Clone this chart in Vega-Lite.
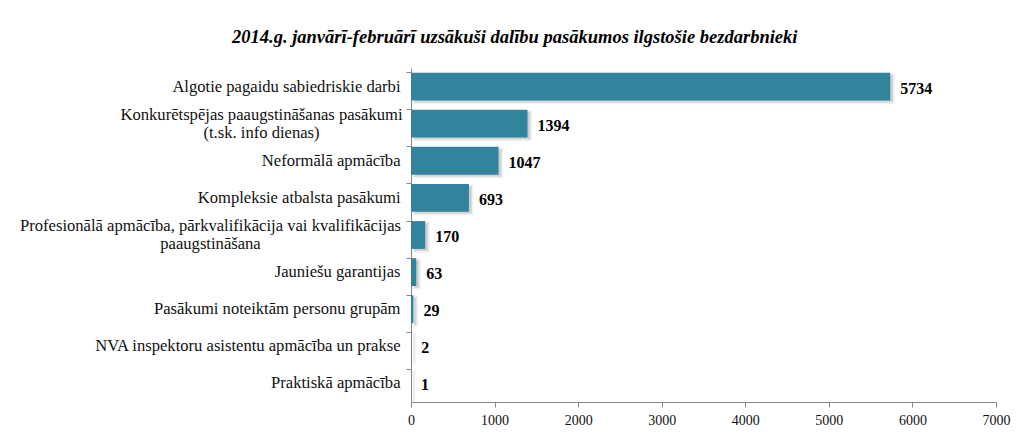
{
  "$schema": "https://vega.github.io/schema/vega-lite/v6.json",
  "width": 585,
  "height": 334,
  "autosize": {"type": "none"},
  "padding": {"left": 411, "top": 68, "right": 23, "bottom": 33},
  "background": "white",
  "title": {
    "text": "2014.g. janvārī-februārī uzsākuši dalību pasākumos ilgstošie bezdarbnieki",
    "font": "Liberation Serif",
    "fontSize": 18.5,
    "fontWeight": "bold",
    "fontStyle": "italic",
    "color": "#000000",
    "anchor": "middle",
    "frame": "bounds",
    "offset": 22
  },
  "data": {
    "values": [
      {"pasakums": "Algotie pagaidu sabiedriskie darbi", "skaits": 5734},
      {"pasakums": "Konkurētspējas paaugstināšanas pasākumi (t.sk. info dienas)", "skaits": 1394},
      {"pasakums": "Neformālā apmācība", "skaits": 1047},
      {"pasakums": "Kompleksie atbalsta pasākumi", "skaits": 693},
      {"pasakums": "Profesionālā apmācība, pārkvalifikācija vai kvalifikācijas paaugstināšana", "skaits": 170},
      {"pasakums": "Jauniešu garantijas", "skaits": 63},
      {"pasakums": "Pasākumi noteiktām personu grupām", "skaits": 29},
      {"pasakums": "NVA inspektoru asistentu apmācība un prakse", "skaits": 2},
      {"pasakums": "Praktiskā apmācība", "skaits": 1}
    ]
  },
  "encoding": {
    "y": {
      "field": "pasakums",
      "type": "nominal",
      "sort": null,
      "scale": {"paddingInner": 0.25, "paddingOuter": 0.125},
      "axis": {
        "title": null,
        "bandPosition": 0,
        "labelFont": "Liberation Serif",
        "labelFontSize": 16.6,
        "labelColor": "#111111",
        "labelLimit": 500,
        "labelLineHeight": 18,
        "labelAlign": {"condition": {"test": "length(datum.value) > 50", "value": "center"}, "value": "right"},
        "labelPadding": {"condition": [{"test": "length(datum.value) > 65", "value": 196}, {"test": "length(datum.value) > 50", "value": 145}], "value": 6},
        "labelOffset": {"condition": {"test": "length(datum.value) > 50", "value": -9}, "value": 0},
        "tickSize": 5,
        "tickColor": "#868686",
        "domainColor": "#868686",
        "labelExpr": "datum.label == 'Konkurētspējas paaugstināšanas pasākumi (t.sk. info dienas)' ? ['Konkurētspējas paaugstināšanas pasākumi', '(t.sk. info dienas)'] : datum.label == 'Profesionālā apmācība, pārkvalifikācija vai kvalifikācijas paaugstināšana' ? ['Profesionālā apmācība, pārkvalifikācija vai kvalifikācijas', 'paaugstināšana'] : datum.label"
      }
    },
    "x": {
      "field": "skaits",
      "type": "quantitative",
      "scale": {"domain": [0, 7000], "nice": false},
      "axis": {
        "title": null,
        "values": [0, 1000, 2000, 3000, 4000, 5000, 6000, 7000],
        "format": "d",
        "grid": false,
        "labelFont": "Liberation Serif",
        "labelFontSize": 14,
        "labelColor": "#111111",
        "labelPadding": 6,
        "tickSize": 5,
        "tickColor": "#868686",
        "domainColor": "#868686",
        "labelFlush": false
      }
    }
  },
  "layer": [
    {
      "mark": {"type": "bar", "color": "#8c8c8c", "opacity": 0.45, "xOffset": 3, "yOffset": 2, "stroke": "#bfbfbf", "strokeWidth": 3, "strokeOpacity": 0.5}
    },
    {
      "mark": {"type": "bar", "color": "#31849B"}
    },
    {
      "mark": {"type": "text", "align": "left", "baseline": "middle", "dx": 10, "dy": 2, "font": "Liberation Serif", "fontSize": 16, "fontWeight": "bold", "color": "#000000"},
      "encoding": {"text": {"field": "skaits", "type": "quantitative"}}
    }
  ],
  "config": {
    "view": {"stroke": null}
  }
}
